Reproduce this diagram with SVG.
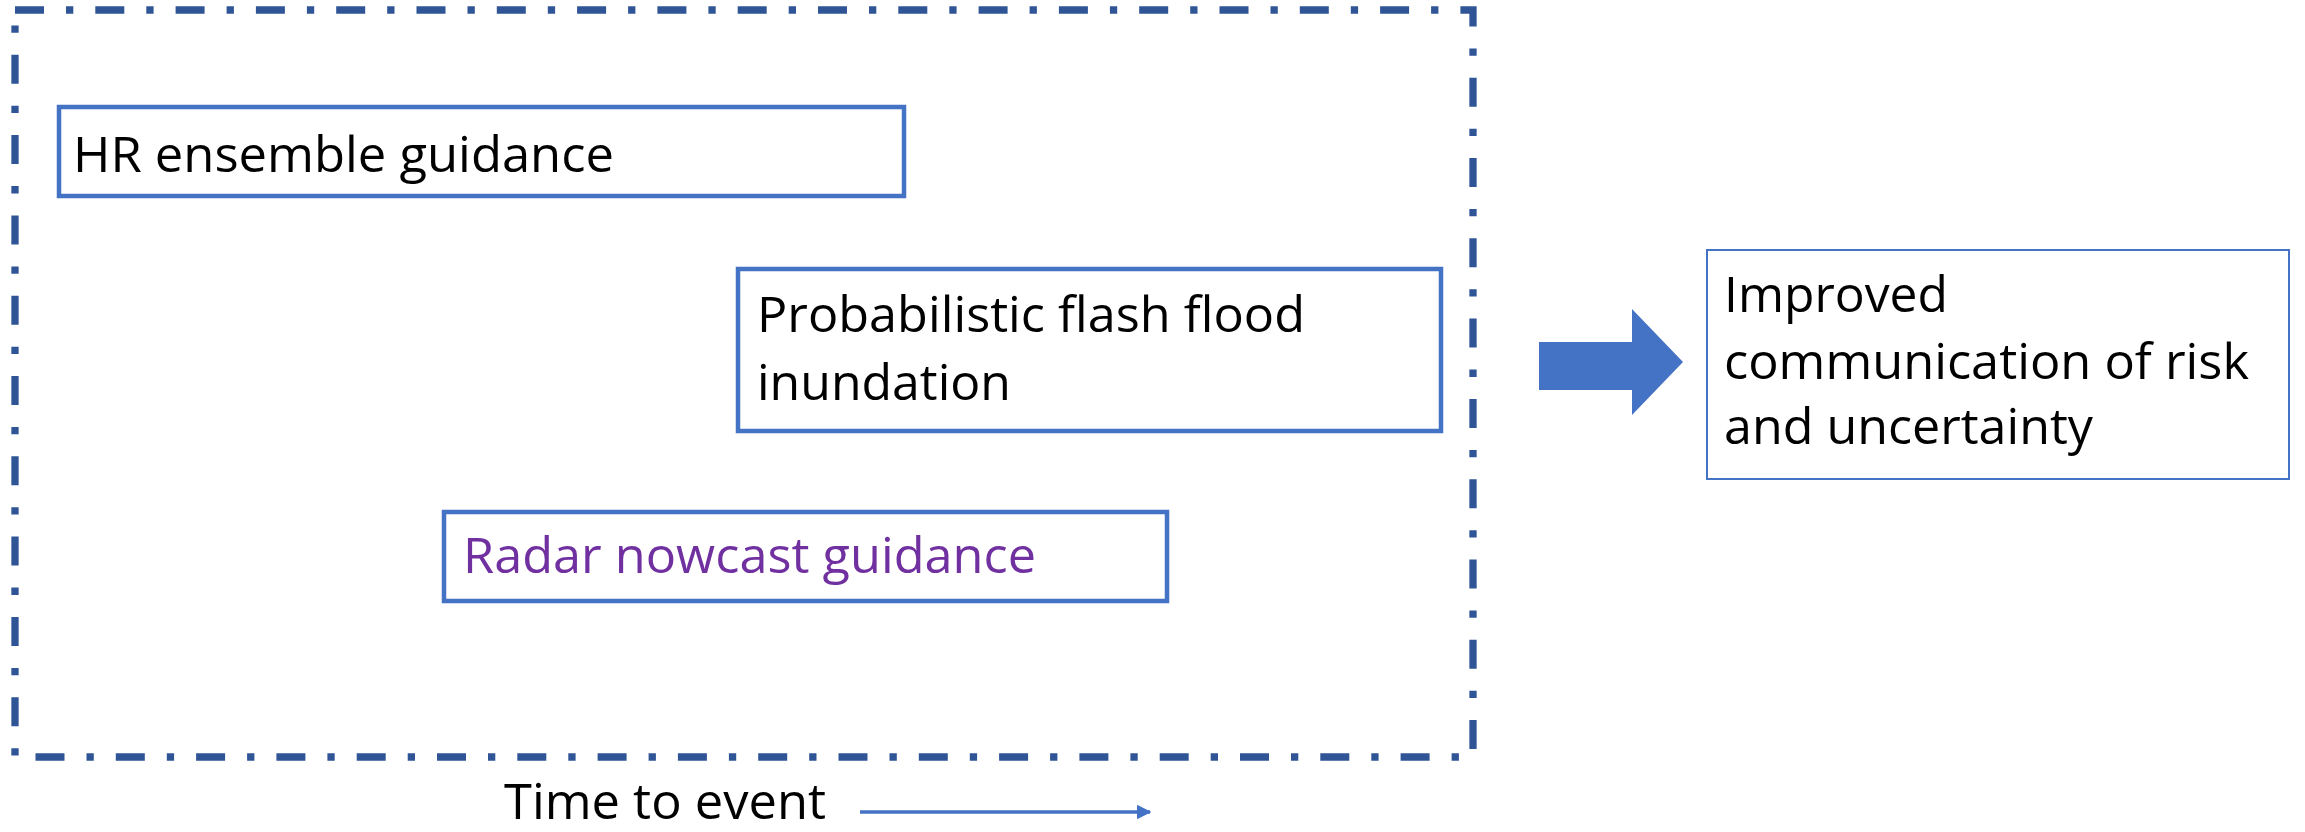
<svg xmlns="http://www.w3.org/2000/svg" width="2305" height="832" viewBox="0 0 2305 832">
<defs>
<style>
.box{fill:#fff;stroke:#4472C4;stroke-width:4.5}
.thin{fill:#fff;stroke:#4472C4;stroke-width:2}
.frame{fill:none;stroke:#2F5597;stroke-width:7.3;stroke-dasharray:29 22 7.3 22}
.t{font-family:"Open Sans","Noto Sans",sans-serif;font-size:50px;fill:#000}
.p{fill:#7030A0}
</style>
<marker id="ah" viewBox="0 0 10 10" refX="9" refY="5" markerWidth="4.2" markerHeight="4.2" orient="auto">
<path d="M0,0 L10,5 L0,10 z" fill="#4472C4"/>
</marker>
</defs>
<rect width="2305" height="832" fill="#fff"/>
<g id="frame">
<path class="frame" d="M15,10 H1473 V757 H15 Z"/>
</g>
<g id="hr">
<rect class="box" x="59" y="107" width="845" height="89"/>
<text class="t" x="73" y="172" textLength="541" lengthAdjust="spacingAndGlyphs">HR ensemble guidance</text>
</g>
<g id="prob">
<rect class="box" x="738" y="269" width="703" height="162"/>
<text class="t" x="757" y="332" textLength="548" lengthAdjust="spacingAndGlyphs">Probabilistic flash flood</text>
<text class="t" x="757" y="400" textLength="254" lengthAdjust="spacingAndGlyphs">inundation</text>
</g>
<g id="radar">
<rect class="box" x="444" y="512" width="723" height="89"/>
<text class="t p" x="463" y="573" textLength="573" lengthAdjust="spacingAndGlyphs">Radar nowcast guidance</text>
</g>
<g id="result">
<rect class="thin" x="1707" y="250" width="582" height="229"/>
<text class="t" x="1724" y="312" textLength="224" lengthAdjust="spacingAndGlyphs">Improved</text>
<text class="t" x="1724" y="379" textLength="525" lengthAdjust="spacingAndGlyphs">communication of risk</text>
<text class="t" x="1724" y="444" textLength="369" lengthAdjust="spacingAndGlyphs">and uncertainty</text>
</g>
<g id="time">
<text class="t" x="504" y="819" textLength="322" lengthAdjust="spacingAndGlyphs">Time to event</text>
</g>
<g id="connectors">
<path d="M1539,342 H1632 V309 L1683,362 L1632,415 V390 H1539 Z" fill="#4472C4"/>
<line x1="860" y1="812" x2="1150" y2="812" stroke="#4472C4" stroke-width="3.5" marker-end="url(#ah)"/>
</g>
</svg>
